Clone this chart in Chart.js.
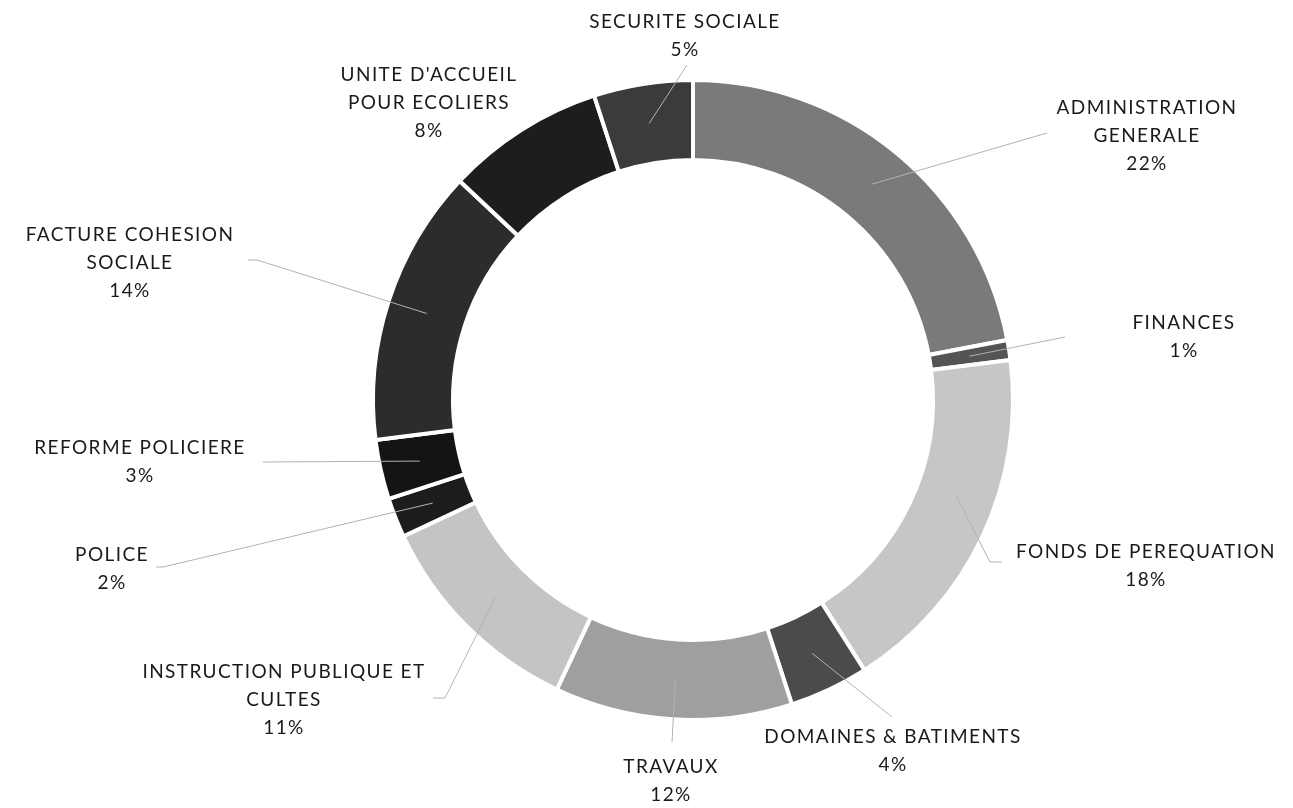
<!DOCTYPE html>
<html>
<head>
<meta charset="utf-8">
<script src="https://cdn.jsdelivr.net/npm/chart.js@4.4.1/dist/chart.umd.min.js"></script>
<style>
  html, body { margin: 0; padding: 0; background: #fff; overflow: hidden; }
</style>
</head>
<body>
<canvas id="budgetChart" width="1293" height="808"></canvas>
<script>
// budget split, clockwise from the top
const categories = [
  "ADMINISTRATION GENERALE", "FINANCES", "FONDS DE PEREQUATION",
  "DOMAINES & BATIMENTS", "TRAVAUX", "INSTRUCTION PUBLIQUE ET CULTES",
  "POLICE", "REFORME POLICIERE", "FACTURE COHESION SOCIALE",
  "UNITE D'ACCUEIL POUR ECOLIERS", "SECURITE SOCIALE"
];
const labelLines = [
  ["ADMINISTRATION", "GENERALE"], ["FINANCES"], ["FONDS DE PEREQUATION"],
  ["DOMAINES & BATIMENTS"], ["TRAVAUX"], ["INSTRUCTION PUBLIQUE ET", "CULTES"],
  ["POLICE"], ["REFORME POLICIERE"], ["FACTURE COHESION", "SOCIALE"],
  ["UNITE D'ACCUEIL", "POUR ECOLIERS"], ["SECURITE SOCIALE"]
];
const shares = [22, 1, 18, 4, 12, 11, 2, 3, 14, 8, 5];

const colours = [
  "#7a7a7a", "#545454", "#c6c6c6", "#4b4b4b", "#9f9f9f", "#c4c4c4",
  "#1c1c1c", "#141414", "#2c2c2c", "#1d1d1d", "#3b3b3b"
];

// where each label sits (centre x, first line y) and where its leader line stops
const labelLayout = [
  { x: 1146, y: 108, end: [1047, 133] },
  { x: 1183, y: 323, end: [1065, 337] },
  { x: 1145, y: 552, a: 110, elbow: [990, 562], end: [1002, 562] },
  { x: 892,  y: 737, end: [892, 717] },
  { x: 670,  y: 767, end: [672, 742] },
  { x: 283,  y: 672, elbow: [445, 698], end: [433, 698] },
  { x: 111,  y: 555, elbow: [163, 567], end: [156, 567] },
  { x: 139,  y: 448, end: [263, 462] },
  { x: 129,  y: 235, elbow: [257, 260], end: [248, 260] },
  { x: 428,  y: 75 },
  { x: 684,  y: 22, end: [687, 65] }
];

const outsideLabels = {
  id: "outsideLabels",
  afterDatasetsDraw(chart) {
    const ctx = chart.ctx;
    const arcs = chart.getDatasetMeta(0).data;
    ctx.save();
    arcs.forEach((arc, i) => {
      const lay = labelLayout[i];
      const p = arc.getProps(["x", "y", "startAngle", "endAngle", "innerRadius", "outerRadius"], true);
      if (lay.end) {
        const ang = lay.a !== undefined ? (lay.a - 90) * Math.PI / 180 : (p.startAngle + p.endAngle) / 2;
        const r = (p.innerRadius + p.outerRadius) / 2;
        ctx.beginPath();
        ctx.moveTo(p.x + r * Math.cos(ang), p.y + r * Math.sin(ang));
        if (lay.elbow) ctx.lineTo(lay.elbow[0], lay.elbow[1]);
        ctx.lineTo(lay.end[0], lay.end[1]);
        ctx.strokeStyle = "#b2b2b2";
        ctx.lineWidth = 1;
        ctx.stroke();
      }
      const lines = labelLines[i].concat(shares[i] + "%");
      ctx.font = "19px Lato";
      ctx.letterSpacing = "1.4px";
      ctx.fillStyle = "#1a1a1a";
      ctx.textAlign = "center";
      ctx.textBaseline = "middle";
      lines.forEach((t, k) => ctx.fillText(t, lay.x + 1, lay.y + k * 28));
    });
    ctx.restore();
  }
};

new Chart(document.getElementById("budgetChart"), {
  type: "doughnut",
  data: {
    labels: categories,
    datasets: [{
      data: shares,
      backgroundColor: colours,
      borderColor: "#ffffff",
      borderWidth: 4,
      hoverBorderWidth: 4
    }]
  },
  options: {
    responsive: false,
    animation: false,
    cutout: "75%",
    layout: { padding: { left: 371, right: 278, top: 78, bottom: 86 } },
    plugins: {
      legend: { display: false },
      tooltip: { enabled: false }
    }
  },
  plugins: [outsideLabels]
});
</script>
</body>
</html>
